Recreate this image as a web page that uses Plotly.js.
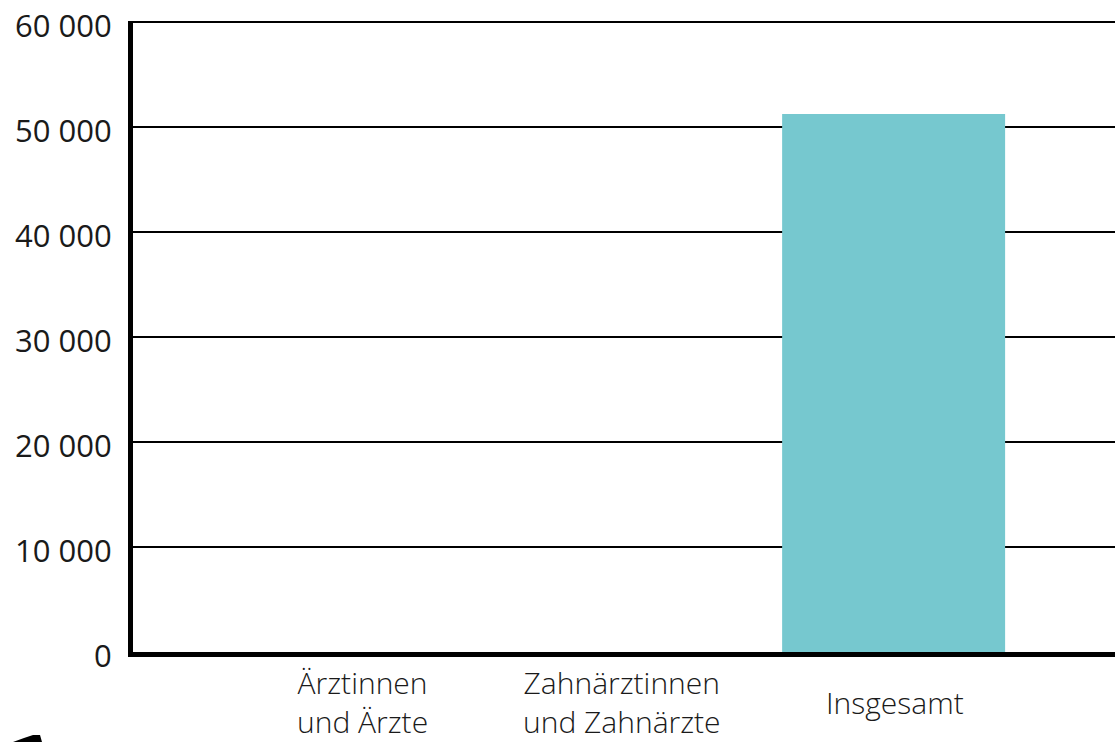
<!DOCTYPE html>
<html>
<head>
<meta charset="utf-8">
<script src="https://cdn.plot.ly/plotly-3.0.1.min.js"></script>
<style>html,body{margin:0;padding:0;background:#fff;}#chart{width:1115px;height:742px;}</style>
</head>
<body>
<div id="chart"></div>
<script>
// Data
var categories = ["Ärztinnen<br>und Ärzte", "Zahnärztinnen<br>und Zahnärzte", "Insgesamt"];
var values = [0, 0, 51250];
var yTickVals = [0, 10000, 20000, 30000, 40000, 50000, 60000];
var yTickText = ["0", "10 000", "20 000", "30 000", "40 000", "50 000", "60 000"];

var W = 1115, H = 742;
var M = {l: 133, r: 0, t: 21, b: 90};
var pw = W - M.l - M.r, ph = H - M.t - M.b;
function px(x){ return (x - M.l) / pw; }
function py(y){ return (H - M.b - y) / ph; }

var idx = categories.map(function(_, i){ return i; });

var trace = {
  type: 'bar',
  x: idx,
  y: values,
  width: 0.839,
  marker: {color: '#76c8cf', line: {width: 0}},
  hoverinfo: 'none'
};

var labelShift = [0, -6, 1];
var annotations = categories.map(function(c, i){
  return {
    x: i, xref: 'x', y: py(702), yref: 'paper',
    text: c, showarrow: false, xanchor: 'center', yanchor: 'middle',
    align: 'center', xshift: labelShift[i], borderpad: 0,
    font: {family: 'Open Sans, sans-serif', size: 30, weight: 300, color: '#1a1a1a'}
  };
});

var logoPts = [[13,742],[24,738],[33,735],[40,735],[42,742]];
var logoPath = 'M ' + logoPts.map(function(p){ return px(p[0]) + ',' + py(p[1]); }).join(' L ') + ' Z';

var layout = {
  width: W, height: H,
  margin: M,
  paper_bgcolor: '#ffffff',
  plot_bgcolor: '#ffffff',
  showlegend: false,
  xaxis: {
    range: [-0.862, 2.833],
    showticklabels: false,
    ticks: '',
    showgrid: false,
    zeroline: false,
    showline: true,
    linecolor: '#000000',
    linewidth: 5,
    fixedrange: true
  },
  yaxis: {
    range: [0, 60100],
    tickvals: yTickVals,
    ticktext: yTickText,
    ticks: '',
    showgrid: true,
    gridcolor: '#000000',
    gridwidth: 1.5,
    zeroline: false,
    showline: true,
    linecolor: '#000000',
    linewidth: 5,
    ticklabelstandoff: 10,
    ticklabelshift: 4,
    tickfont: {family: 'Open Sans, sans-serif', size: 31, weight: 400, color: '#1a1a1a'},
    fixedrange: true
  },
  annotations: annotations,
  shapes: [{
    type: 'path', xref: 'paper', yref: 'paper', path: logoPath,
    fillcolor: '#000000', line: {width: 0}
  }]
};

Plotly.newPlot('chart', [trace], layout, {displayModeBar: false, staticPlot: true});
</script>
</body>
</html>
